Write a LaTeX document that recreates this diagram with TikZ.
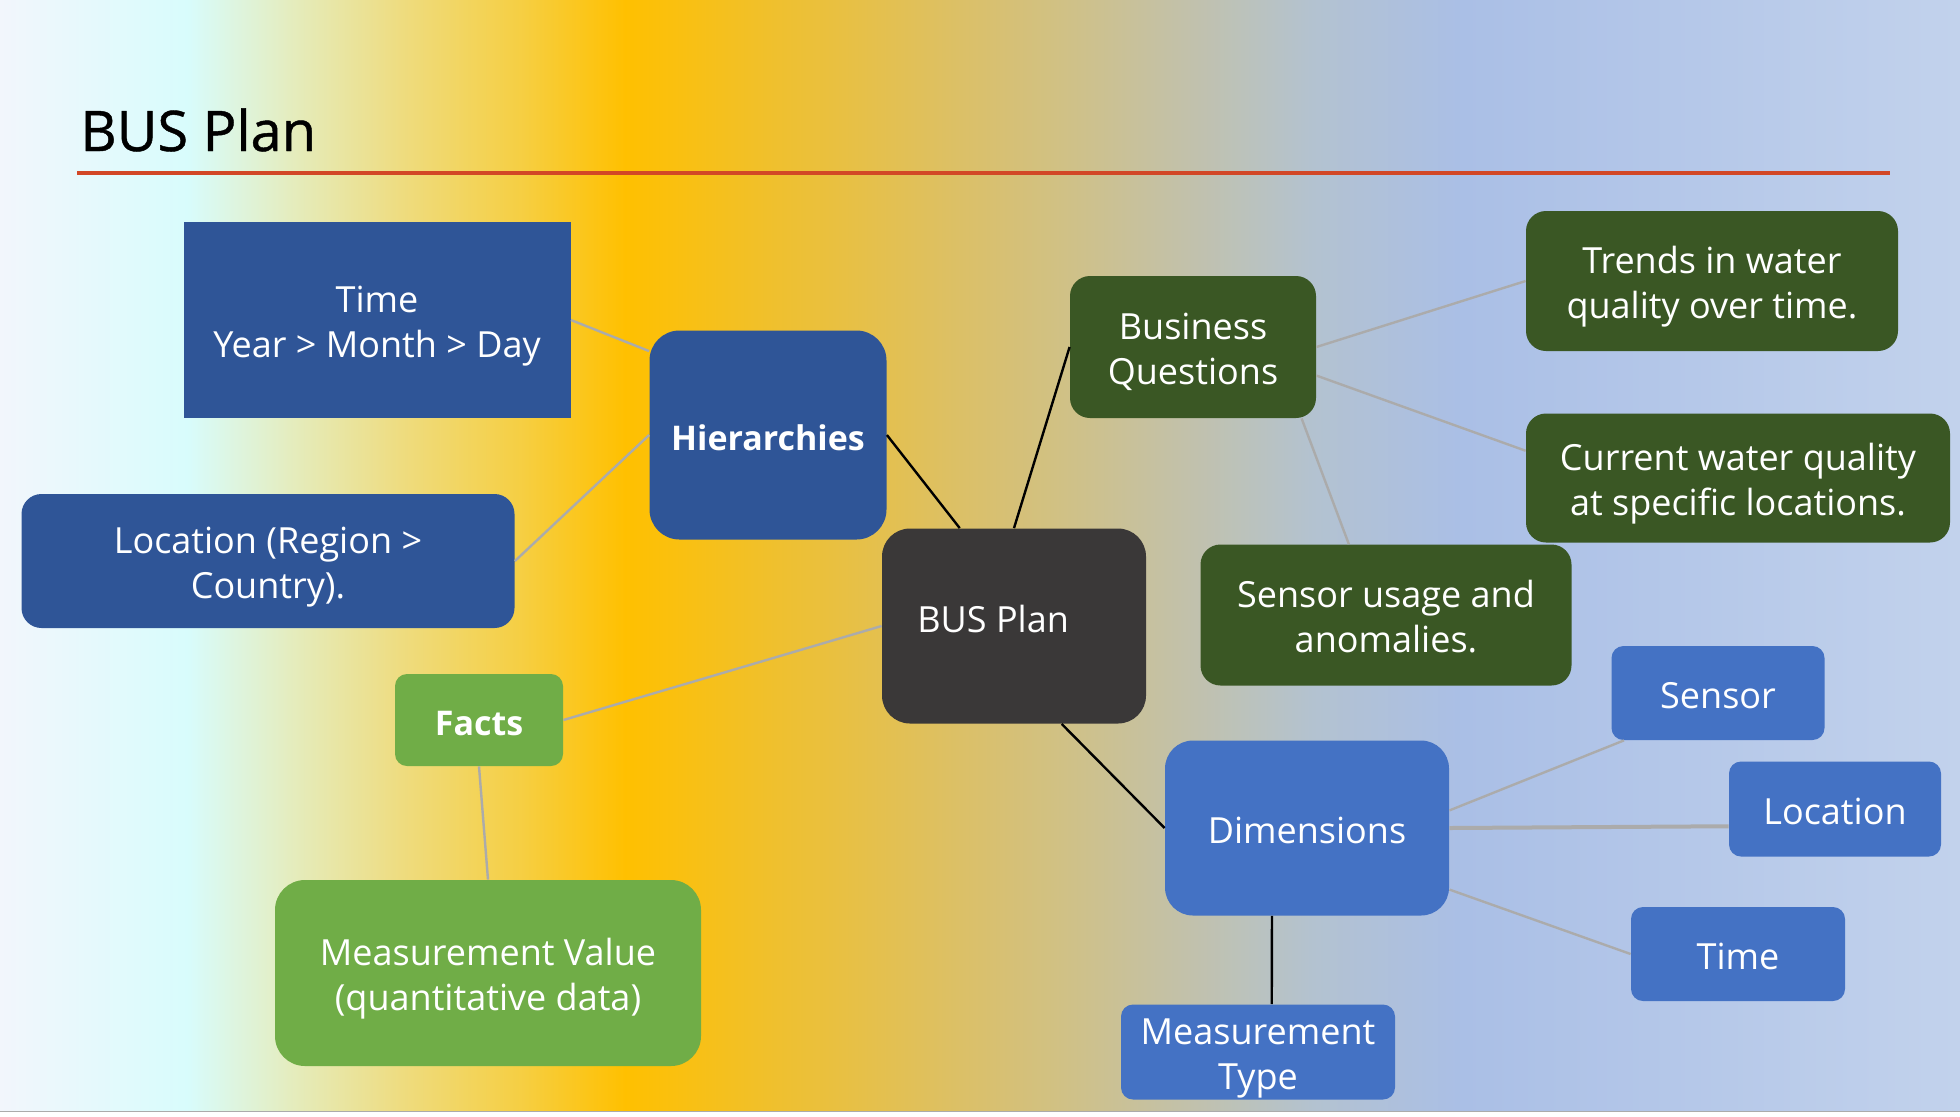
\documentclass[tikz,border=0pt]{standalone}
\usepackage{fontspec}
\setmainfont{Open Sans}
\newfontfamily\titlefont[FakeBold=0.8]{Open Sans}
\usetikzlibrary{calc}
\definecolor{dblue}{HTML}{2F5597}
\definecolor{mblue}{HTML}{4472C4}
\definecolor{lgreen}{HTML}{70AD47}
\definecolor{dgreen}{HTML}{3A5724}
\definecolor{dgray}{HTML}{3A3838}
\definecolor{conn}{HTML}{ABABAB}
\definecolor{redline}{HTML}{D24726}
\definecolor{bga}{HTML}{F2F6FC}
\definecolor{bgb}{HTML}{D8FCFC}
\definecolor{bgc}{HTML}{E4EDC0}
\definecolor{bgd}{HTML}{EEDC80}
\definecolor{bge}{HTML}{F6CE40}
\definecolor{bgf}{HTML}{FFC000}
\definecolor{bgg}{HTML}{DEC060}
\definecolor{bgh}{HTML}{C9C198}
\definecolor{bgi}{HTML}{B3C2D0}
\definecolor{bgj}{HTML}{AABFE6}
\definecolor{bgk}{HTML}{C2D2EC}
\newcommand\mytop{\rule{0pt}{20pt}}
\newcommand\mybot{\rule[-5pt]{0pt}{5pt}}
\begin{document}
\begin{tikzpicture}[x=0.5pt,y=-0.5pt,
  box/.style 2 args={minimum width=#1*0.5pt, minimum height=#2*0.5pt, inner sep=0pt,
    text=white, align=center, font=\fontsize{18}{22.5}\selectfont},
  boldtxt/.style={font=\fontsize{17}{22.5}\selectfont\bfseries},
  gline/.style={draw=conn, line width=1.2pt},
  bline/.style={draw=black, line width=1.2pt}]
\useasboundingbox (0,0) rectangle (1960,1116);
% background gradient
\fill[left color=bga, right color=bgb] (0,0) rectangle (188,1112);
\fill[left color=bgb, right color=bgc] (187,0) rectangle (288,1112);
\fill[left color=bgc, right color=bgd] (287,0) rectangle (401,1112);
\fill[left color=bgd, right color=bge] (400,0) rectangle (526,1112);
\fill[left color=bge, right color=bgf] (525,0) rectangle (626,1112);
\fill[left color=bgf, right color=bgg] (625,0) rectangle (938,1112);
\fill[left color=bgg, right color=bgh] (937,0) rectangle (1126,1112);
\fill[left color=bgh, right color=bgi] (1125,0) rectangle (1313,1112);
\fill[left color=bgi, right color=bgj] (1312,0) rectangle (1463,1112);
\fill[left color=bgj, right color=bgk] (1462,0) rectangle (1960,1112);
\fill[white] (0,1112) rectangle (1960,1116);
\draw[conn, line width=0.6pt] (0,1111.5) -- (1960,1111.5);
% title
\node[anchor=base west, inner sep=0pt, font=\titlefont\fontsize{28}{34}\selectfont] (title) at (80,151) {BUS Plan};
\draw[redline, line width=2pt] (77,172.5) -- (1890,172.5);
% nodes
\node[box={387}{196}, fill=dblue] (time) at (377,320) {\mytop Time\\Year > Month > Day\mybot};
\node[box={237}{209}, fill=dblue, rounded corners=15pt, boldtxt] (hier) at (768,435) {\mytop Hierarchies\mybot};
\node[box={493}{134}, fill=dblue, rounded corners=10pt] (loc) at (268,561) {\mytop Location (Region >\\Country).\mybot};
\node[box={168}{92}, fill=lgreen, rounded corners=6pt, boldtxt] (facts) at (479,720) {\mytop Facts\mybot};
\node[box={426}{186}, fill=lgreen, rounded corners=15pt] (mv) at (488,973) {\mytop Measurement Value\\(quantitative data)\mybot};
\node[box={264}{195}, fill=dgray, rounded corners=14pt] (bus) at (1014,626) {};
\node[anchor=west, inner sep=0pt, text=white, font=\fontsize{18}{22.5}\selectfont] (buslabel) at (917,619) {BUS Plan};
\node[box={246}{142}, fill=dgreen, rounded corners=10pt] (bq) at (1193,347) {\mytop Business\\Questions\mybot};
\node[box={372}{140}, fill=dgreen, rounded corners=10pt] (trends) at (1712,281) {\mytop Trends in water\\quality over time.\mybot};
\node[box={424}{129}, fill=dgreen, rounded corners=10pt] (cur) at (1738,478) {\mytop Current water quality\\at specific locations.\mybot};
\node[box={371}{141}, fill=dgreen, rounded corners=10pt] (su) at (1386,615) {\mytop Sensor usage and\\anomalies.\mybot};
\node[box={284}{175}, fill=mblue, rounded corners=14pt] (dim) at (1307,828) {\mytop Dimensions\mybot};
\node[box={213}{94}, fill=mblue, rounded corners=6pt] (sensor) at (1718,693) {\mytop Sensor\mybot};
\node[box={212}{95}, fill=mblue, rounded corners=6pt] (loc2) at (1835,809) {\mytop Location\mybot};
\node[box={214}{94}, fill=mblue, rounded corners=6pt] (time2) at (1738,954) {\mytop Time\mybot};
\node[box={274}{94}, fill=mblue, rounded corners=6pt] (mt) at (1258,1052) {\mytop Measurement\\Type\mybot};
% connectors
\draw[gline] (time.east) -- ($(hier.north west)!0.1!(hier.south west)$);
\draw[gline] (loc.east) -- (hier.west);
\draw[bline] (hier.east) -- ($(bus.north west)!0.295!(bus.north east)$);
\draw[bline] (bus.north) -- (bq.west);
\draw[gline] (bus.west) -- (facts.east);
\draw[gline] (facts.south) -- (mv.north);
\draw[bline] ($(bus.south west)!0.68!(bus.south east)$) -- (dim.west);
\draw[gline] (bq.east) -- (trends.west);
\draw[gline] ($(bq.north east)!0.70!(bq.south east)$) -- ($(cur.north west)!0.29!(cur.south west)$);
\draw[gline] ($(bq.south west)!0.94!(bq.south east)$) -- ($(su.north west)!0.40!(su.north east)$);
\draw[gline] ($(dim.north east)!0.40!(dim.south east)$) -- ($(sensor.south west)!0.06!(sensor.south east)$);
\draw[gline, line width=2pt] (dim.east) -- ($(loc2.north west)!0.68!(loc2.south west)$);
\draw[gline] ($(dim.north east)!0.85!(dim.south east)$) -- (time2.west);
\draw[bline] ($(dim.south west)!0.377!(dim.south east)$) -- ($(mt.north west)!0.55!(mt.north east)$);
\end{tikzpicture}
\end{document}
